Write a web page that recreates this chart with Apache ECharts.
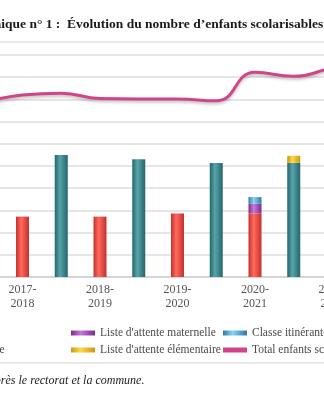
<!DOCTYPE html>
<html>
<head>
<meta charset="utf-8">
<script src="https://cdn.jsdelivr.net/npm/echarts@6/dist/echarts.min.js"></script>
<style>
html,body{margin:0;padding:0;background:#fff;}
#c{width:324px;height:400px;}
</style>
</head>
<body>
<div id="c"></div>
<script>
// Categories (school years) — each year uses two slots: maternelle bar, then élémentaire bar
var years = ['2017-\n2018', '2018-\n2019', '2019-\n2020', '2020-\n2021', '2021-\n2022'];
// Series values (y gridline step = 50)
var maternelle = [136, 136, 143, 143, 150];
var elementaire = [275, 265, 257, 257, 262];
var listeMaternelle = [0, 0, 0, 22, 0];
var classeItinerante = [0, 0, 0, 15, 0];
var listeElementaire = [0, 0, 0, 16, 0];
// Total curve read at each slot position (leading slot + 2 slots per year)
var totalCurve = [392, 410, 414, 402, 401, 401, 397, 461, 452, 470, 478];

var FONT = '"Liberation Serif", "DejaVu Serif", serif';

// Build the slot-level category axis and data
var slots = [''];
years.forEach(function (y) { slots.push(y); slots.push(''); });
function onMat(arr) { var d = ['-']; arr.forEach(function (v) { d.push(v || '-'); d.push('-'); }); return d; }
function onElem(arr) { var d = ['-']; arr.forEach(function (v) { d.push('-'); d.push(v || '-'); }); return d; }

function grad(dark, light) {
  return new echarts.graphic.LinearGradient(0, 0, 1, 0, [
    { offset: 0, color: dark }, { offset: 0.4, color: light }, { offset: 1, color: dark }
  ]);
}

var chart = echarts.init(document.getElementById('c'), null, { renderer: 'canvas' });
var slotW = 38.75;
var gridLeft = 22.5 - 1.5 * slotW;
var gridWidth = slots.length * slotW;

var legendText = { fontFamily: FONT, fontSize: 11.5, color: '#4a4a4a' };
function leg(name, left, top) {
  return { data: [name], left: left, top: top, itemWidth: 24, itemHeight: 5, icon: 'rect',
    textStyle: legendText, padding: 0, selectedMode: false };
}

chart.setOption({
  animation: false,
  title: {
    text: 'Graphique n° 1 :  Évolution du nombre d\u2019enfants scolarisables',
    left: -42, top: 13,
    textStyle: { fontFamily: FONT, fontSize: 13.5, fontWeight: 'bold', color: '#1a1a1a' }
  },
  grid: { left: gridLeft, width: gridWidth, top: 55, height: 222, containLabel: false, outerBoundsMode: 'none' },
  xAxis: {
    type: 'category', data: slots, boundaryGap: true,
    axisTick: { show: false },
    axisLine: { lineStyle: { color: '#cfcfcf', width: 1.5 } },
    axisLabel: { interval: 0, fontFamily: FONT, fontSize: 12, color: '#555', lineHeight: 14, margin: 6 }
  },
  yAxis: {
    type: 'value', min: 0, max: 500, interval: 50,
    axisLabel: { show: false }, axisLine: { show: false }, axisTick: { show: false },
    splitLine: { lineStyle: { color: '#dedede', width: 1.5 } }
  },
  legend: [
    leg('Maternelle', -100, 327),
    leg('Liste d\'attente maternelle', 71, 327),
    leg('Classe itinérante', 223, 327),
    leg('Élémentaire', -80, 344),
    leg('Liste d\'attente élémentaire', 71, 344),
    leg('Total enfants scolarisables', 223, 344)
  ],
  graphic: [
    { type: 'line', shape: { x1: 0, y1: 42, x2: 324, y2: 42 }, style: { stroke: '#e2e2e2', lineWidth: 1.5 } },
    { type: 'line', shape: { x1: 0, y1: 363, x2: 324, y2: 363 }, style: { stroke: '#e2e2e2', lineWidth: 1.5 } },
    { type: 'text', left: -64, top: 375, style: { text: 'Source : d\u2019après le rectorat et la commune.',
      font: 'italic 12px "Liberation Serif", serif', fill: '#222' } }
  ],
  series: [
    { name: 'Maternelle', type: 'bar', stack: 'a', barWidth: 13, data: onMat(maternelle),
      itemStyle: { color: grad('#c4302c', '#ff6a5e') } },
    { name: 'Liste d\'attente maternelle', type: 'bar', stack: 'a', barWidth: 13, data: onMat(listeMaternelle),
      itemStyle: { color: grad('#7d2a8a', '#c77ad6') } },
    { name: 'Classe itinérante', type: 'bar', stack: 'a', barWidth: 13, data: onMat(classeItinerante),
      itemStyle: { color: grad('#2f78a8', '#8ad4f0') } },
    { name: 'Élémentaire', type: 'bar', stack: 'a', barWidth: 13, data: onElem(elementaire),
      itemStyle: { color: grad('#22666c', '#57a4aa') } },
    { name: 'Liste d\'attente élémentaire', type: 'bar', stack: 'a', barWidth: 13, data: onElem(listeElementaire),
      itemStyle: { color: grad('#c99a10', '#ffd848') } },
    { name: 'Total enfants scolarisables', type: 'line', data: totalCurve, smooth: 0.5, symbol: 'none',
      itemStyle: { color: '#d24488' },
      lineStyle: { color: '#d24488', width: 3, shadowColor: 'rgba(0,0,0,0.25)', shadowBlur: 3, shadowOffsetY: 2 } }
  ]
});
</script>
</body>
</html>
